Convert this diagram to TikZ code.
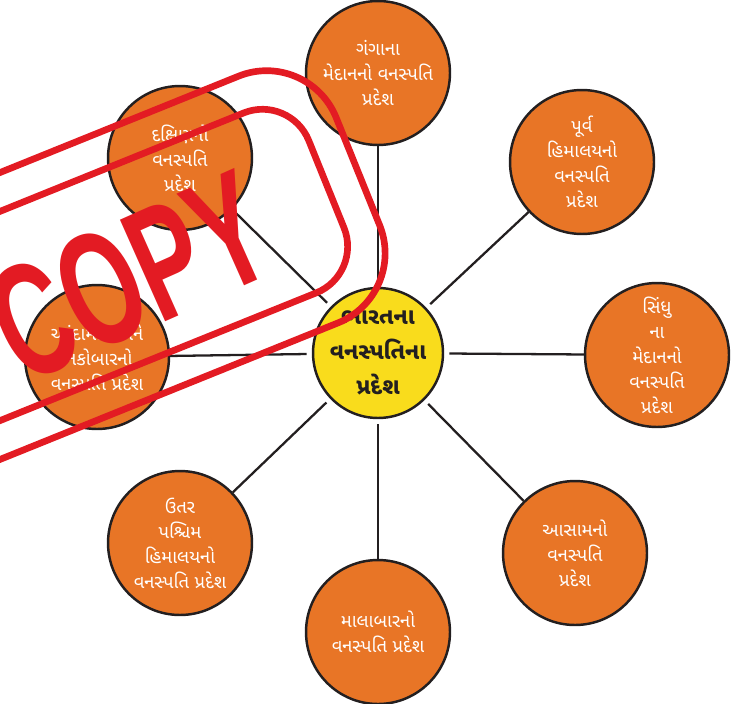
\documentclass[tikz,border=0pt]{standalone}
\usepackage{fontspec}
\usepackage{pdfrender}
\newfontfamily\gujfont[Script=Gujarati]{Noto Sans Gujarati UI}
\newfontfamily\stampfont{Liberation Sans}
\definecolor{regionorange}{HTML}{E87526}
\definecolor{centreyellow}{HTML}{F9DC1C}
\definecolor{stampred}{HTML}{E31B23}
\definecolor{rimblack}{HTML}{231F20}
\newcommand{\region}[4]{%
  % #1 name, #2 x, #3 y, #4 label
  \node[regioncirc] (#1) at (#2,#3) {#4};
}

\begin{document}
\begin{tikzpicture}[x=0.02cm,y=-0.02cm]

% circles, spokes and stamp
\tikzset{
  regioncirc/.style={circle, draw=rimblack, line width=1.4pt, fill=regionorange,
    minimum size=2.88cm, inner sep=0pt, align=center, text=white,
    font=\gujfont\fontsize{10.5}{14.2}\selectfont},
  centrecirc/.style={circle, draw=rimblack, line width=1.4pt, fill=centreyellow,
    minimum size=2.6cm, inner sep=0pt, align=center, text=rimblack,
    font=\gujfont\bfseries\fontsize{13}{19.9}\selectfont},
  spoke/.style={draw=rimblack, line width=1.3pt, shorten <=3pt},
  stampline/.style={draw=stampred, line width=3.8pt},
  stamptext/.style={text=stampred, inner sep=0pt,
    font=\stampfont\bfseries\fontsize{92}{92}\selectfont},
}

\useasboundingbox (0,0) rectangle (756,703);

% ---------------- centre ----------------
\node[centrecirc] (centre) at (378,353) {ભારતના\\વનસ્પતિના\\પ્રદેશ};

% ---------------- regions ----------------
\region{ganga}{378}{73}{ગંગાના\\મેદાનનો વનસ્પતિ\\પ્રદેશ}
\region{east}{582}{162}{પૂર્વ\\હિમાલયનો\\વનસ્પતિ\\પ્રદેશ}
\region{sindhu}{657}{355}{સિંધુ\\ના\\મેદાનનો\\વનસ્પતિ\\પ્રદેશ}
\region{assam}{575}{553}{આસામનો\\વનસ્પતિ\\પ્રદેશ}
\region{malabar}{378}{632}{માલાબારનો\\વનસ્પતિ પ્રદેશ}
\region{northwest}{180}{543}{ઉતર\\પશ્ચિમ\\હિમાલયનો\\વનસ્પતિ પ્રદેશ}
\region{andaman}{97}{357}{આંદામાન અને\\નિકોબારનો\\વનસ્પતિ પ્રદેશ}
\region{south}{180}{158}{દક્ષિણનો\\વનસ્પતિ\\પ્રદેશ}

% ---------------- spokes ----------------
\foreach \r in {ganga,east,sindhu,assam,malabar,northwest,andaman,south}
  \draw[spoke] (centre) -- (\r);

% ---------------- stamp ----------------
\begin{scope}[shift={(0,316)}, rotate=22]
  \draw[stampline, rounded corners=1.5cm] (-500,-133) rectangle (386,133);
  \draw[stampline, rounded corners=1.0cm] (-500,-97) rectangle (352,97);
  \node[stamptext, rotate=24, xscale=0.62] (copy) at (135,12)
    {\textpdfrender{TextRenderingMode=FillStroke,LineWidth=16pt,StrokeColor=stampred,FillColor=stampred}{COPY}};
\end{scope}

\end{tikzpicture}
\end{document}
